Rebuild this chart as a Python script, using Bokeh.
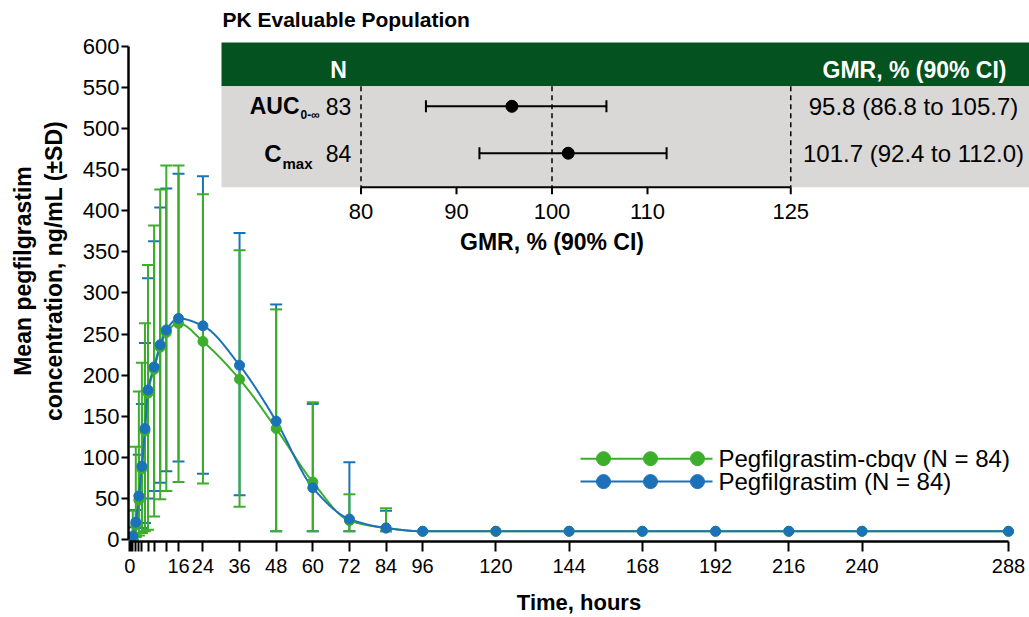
import numpy as np
from bokeh.plotting import figure
from bokeh.models import Range1d, FixedTicker
from bokeh.embed import file_html
from bokeh.resources import INLINE
from bokeh.core.properties import value

# ---------------- data ----------------
times = [0, 1, 2, 3, 4, 5, 6, 8, 10, 12, 16, 24, 36, 48, 60, 72, 84,
         96, 120, 144, 168, 192, 216, 240, 288]

cbqv_mean  = [0, 3, 18, 48, 86, 132, 178, 207, 234, 252, 263, 241, 195, 135, 70, 23, 14,
              10, 10, 10, 10, 10, 10, 10, 10]
cbqv_upper = [0, 35, 113, 180, 215, 263, 334, 382, 426, 455, 455, 420, 352, 280, 167, 55, 38,
              10, 10, 10, 10, 10, 10, 10, 10]
cbqv_lower = [0, 0, 3, 5, 8, 10, 12, 28, 49, 59, 70, 68, 40, 10, 10, 10, 10,
              10, 10, 10, 10, 10, 10, 10, 10]

peg_mean  = [0, 4, 21, 53, 89, 135, 182, 210, 237, 255, 269, 260, 212, 144, 63, 25, 14,
             10, 10, 10, 10, 10, 10, 10, 10]
peg_upper = [0, 15, 36, 103, 165, 239, 318, 363, 404, 427, 445, 442, 373, 286, 165, 94, 35,
             10, 10, 10, 10, 10, 10, 10, 10]
peg_lower = [0, 0, 5, 8, 14, 20, 50, 59, 69, 83, 95, 80, 54, 10, 10, 10, 10,
             10, 10, 10, 10, 10, 10, 10, 10]

x_major = [0, 16, 24, 36, 48, 60, 72, 84, 96, 120, 144, 168, 192, 216, 240, 288]
x_minor = [0.5, 1, 2, 3, 4, 6, 8, 12]
y_ticks = list(range(0, 601, 50))

series_names = ["Pegfilgrastim-cbqv (N = 84)", "Pegfilgrastim (N = 84)"]

# forest plot data
fp_params = ["AUC", "C"]
fp_subs = ["0-\u221e", "max"]
fp_n = ["83", "84"]
fp_gmr = [95.8, 101.7]
fp_lo = [86.8, 92.4]
fp_hi = [105.7, 112.0]
fp_text = ["95.8 (86.8 to 105.7)", "101.7 (92.4 to 112.0)"]
fp_ticks = [80, 90, 100, 110, 125]
fp_refs = [80, 100, 125]

GREEN = "#3DAE2B"
BLUE = "#1C72B8"
FONT = value("Liberation Sans")

# ---------------- layout geometry (canvas pixels) ----------------
W, H = 1029, 617
FL, FR, FT, FB = 128, W, 0, 542     # frame edges
X0, X288 = 129.2, 1008.0            # pixel of t=0 and t=288
Y0, Y600 = 540.0, 46.0              # pixel of 0 and 600
pph = (X288 - X0) / 288
ppu = (Y0 - Y600) / 600

p = figure(width=W, height=H, output_backend="svg", toolbar_location=None,
           x_range=Range1d((FL - X0) / pph, (FR - X0) / pph),
           y_range=Range1d(-(FB - Y0) / ppu, (Y0 - FT) / ppu),
           min_border_left=FL, min_border_right=0, min_border_top=FT,
           min_border_bottom=H - FB, background_fill_color="white",
           border_fill_color="white", outline_line_color=None)
p.grid.visible = False

G80, GPX = 360.5, 9.55   # pixel of GMR 80, pixels per GMR unit
p.extra_x_ranges = {"px": Range1d(FL, FR),
                    "gmr": Range1d(80 + (FL - G80) / GPX, 80 + (FR - G80) / GPX)}
p.extra_y_ranges = {"px": Range1d(FB, FT)}

# axes
xa = p.xaxis[0]
xa.ticker = FixedTicker(ticks=x_major + x_minor)
xa.major_label_overrides = {t: "" for t in x_minor}
xa.bounds = (0, 288)
ya = p.yaxis[0]
ya.ticker = FixedTicker(ticks=y_ticks)
ya.bounds = (0, 600)
for ax in (xa, ya):
    ax.axis_line_width = 2.5
    ax.axis_line_color = "black"
    ax.major_tick_line_width = 2
    ax.major_tick_line_color = "black"
    ax.minor_tick_line_color = None
    ax.major_tick_in = 0
    ax.major_label_text_font = "Liberation Sans"
    ax.major_label_text_color = "black"
    ax.axis_label_text_font = "Liberation Sans"
    ax.axis_label_text_font_style = "bold"
    ax.axis_label_text_color = "black"
xa.major_label_text_font_size = "20px"
ya.major_label_text_font_size = "22px"
xa.major_tick_out = 10
xa.major_label_standoff = 7
ya.major_tick_out = 7
ya.major_label_standoff = 2
xa.axis_label = "Time, hours"
xa.axis_label_text_font_size = "22px"
xa.axis_label_standoff = 14
ya.axis_label = "Mean pegfilgrastim\nconcentration, ng/mL (\u00b1SD)"
ya.axis_label_text_font_size = "23px"
ya.axis_label_standoff = 13


def pchip(x, y, xs):
    x = np.asarray(x, float)
    y = np.asarray(y, float)
    h = np.diff(x)
    d = np.diff(y) / h
    n = len(x)
    m = np.zeros(n)
    for k in range(1, n - 1):
        if d[k - 1] * d[k] > 0:
            w1 = 2 * h[k] + h[k - 1]
            w2 = h[k] + 2 * h[k - 1]
            m[k] = (w1 + w2) / (w1 / d[k - 1] + w2 / d[k])
    m[0] = d[0]
    m[-1] = d[-1]
    idx = np.clip(np.searchsorted(x, xs) - 1, 0, n - 2)
    t = (xs - x[idx]) / h[idx]
    h00 = 2 * t ** 3 - 3 * t ** 2 + 1
    h10 = t ** 3 - 2 * t ** 2 + t
    h01 = -2 * t ** 3 + 3 * t ** 2
    h11 = t ** 3 - t ** 2
    return h00 * y[idx] + h10 * h[idx] * m[idx] + h01 * y[idx + 1] + h11 * h[idx] * m[idx + 1]


xs = np.linspace(0, 288, 3000)

# error bars
for upper, lower, mean, col in ((peg_upper, peg_lower, peg_mean, BLUE),
                                (cbqv_upper, cbqv_lower, cbqv_mean, GREEN)):
    idx = [i for i in range(len(times)) if upper[i] > mean[i] or lower[i] < mean[i]]
    tx = [times[i] for i in idx]
    up = [upper[i] for i in idx]
    lo = [lower[i] for i in idx]
    p.segment(x0=tx, y0=lo, x1=tx, y1=up, line_color=col, line_width=2)
    p.scatter(x=tx, y=up, marker="dash", size=12, line_color=col, line_width=2)
    p.scatter(x=tx, y=lo, marker="dash", size=12, line_color=col, line_width=2)

# curves + points
p.line(xs, pchip(times, cbqv_mean, xs), line_color=GREEN, line_width=2)
p.line(xs, pchip(times, peg_mean, xs), line_color=BLUE, line_width=2)
p.scatter(times, cbqv_mean, size=10, fill_color=GREEN, line_color=GREEN)
p.scatter(times, peg_mean, size=10, fill_color=BLUE, line_color=BLUE)

PX = dict(x_range_name="px", y_range_name="px")
GM = dict(x_range_name="gmr", y_range_name="px")

# legend (manual)
leg_y = [459, 482]
for yy, col, name in zip(leg_y, (GREEN, BLUE), series_names):
    p.line([580, 712], [yy, yy], line_color=col, line_width=2, **PX)
    p.scatter([603, 650, 697], [yy] * 3, size=14, fill_color=col, line_color=col, **PX)
    p.text([718], [yy], text=[name], text_font=FONT, text_font_size="24px",
           text_baseline="middle", text_align="left", text_color="black", **PX)

# ---------------- inset forest plot ----------------
p.quad(left=[221], right=[1029], top=[42], bottom=[86], fill_color="#04521F",
       line_color=None, **PX)
p.quad(left=[221], right=[1029], top=[86], bottom=[187], fill_color="#D9D8D6",
       line_color=None, **PX)
p.text([222], [19], text=["PK Evaluable Population"], text_font=FONT,
       text_font_size="21px", text_font_style="bold", text_baseline="middle",
       text_align="left", text_color="black", **PX)
p.text([338], [70], text=["N"], text_font=FONT, text_font_size="23px",
       text_font_style="bold", text_baseline="middle", text_align="center",
       text_color="white", **PX)
p.text([914], [70], text=["GMR, % (90% CI)"], text_font=FONT, text_font_size="23px",
       text_font_style="bold", text_baseline="middle", text_align="center",
       text_color="white", **PX)

# reference dashed lines
p.segment(x0=fp_refs, y0=[86] * 3, x1=fp_refs, y1=[187] * 3, line_color="black",
          line_width=1.5, line_dash="5 4", **GM)

row_y = [106, 153]
p.segment(x0=fp_lo, y0=row_y, x1=fp_hi, y1=row_y, line_color="black", line_width=2, **GM)
for xv in (fp_lo, fp_hi):
    p.segment(x0=xv, y0=[y - 6 for y in row_y], x1=xv, y1=[y + 6 for y in row_y],
              line_color="black", line_width=2, **GM)
p.scatter(fp_gmr, row_y, size=12, fill_color="black", line_color="black", **GM)

# row labels
p.text([299], [row_y[0]], text=[fp_params[0]], text_font=FONT, text_font_size="23px",
       text_font_style="bold", text_baseline="middle", text_align="right",
       text_color="black", **PX)
p.text([300], [row_y[0] + 9], text=[fp_subs[0]], text_font=FONT, text_font_size="12px",
       text_font_style="bold", text_baseline="middle", text_align="left",
       text_color="black", **PX)
p.text([281], [row_y[1]], text=[fp_params[1]], text_font=FONT, text_font_size="24px",
       text_font_style="bold", text_baseline="middle", text_align="right",
       text_color="black", **PX)
p.text([282], [row_y[1] + 10], text=[fp_subs[1]], text_font=FONT, text_font_size="15px",
       text_font_style="bold", text_baseline="middle", text_align="left",
       text_color="black", **PX)
p.text([338, 338], row_y, text=fp_n, text_font=FONT, text_font_size="23px",
       text_baseline="middle", text_align="center", text_color="black", **PX)
p.text([913, 913], row_y, text=fp_text, text_font=FONT, text_font_size="24px",
       text_baseline="middle", text_align="center", text_color="black", **PX)

# forest x-axis
p.segment(x0=[fp_ticks[0]], y0=[187], x1=[fp_ticks[-1]], y1=[187], line_color="black",
          line_width=2, **GM)
p.segment(x0=fp_ticks, y0=[187] * len(fp_ticks), x1=fp_ticks, y1=[194] * len(fp_ticks),
          line_color="black", line_width=2, **GM)
p.text(fp_ticks, [211] * len(fp_ticks), text=[str(t) for t in fp_ticks], text_font=FONT,
       text_font_size="22px", text_baseline="middle", text_align="center",
       text_color="black", **GM)
p.text([100], [242], text=["GMR, % (90% CI)"], text_font=FONT, text_font_size="23px",
       text_font_style="bold", text_baseline="middle", text_align="center",
       text_color="black", **GM)

open("out.html", "w").write(file_html(p, INLINE))
